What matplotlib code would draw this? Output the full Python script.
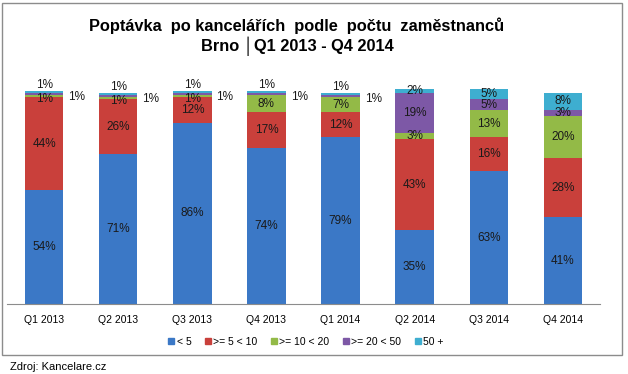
import matplotlib
matplotlib.use("Agg")
import matplotlib.pyplot as plt
from matplotlib.patches import Rectangle
from matplotlib.lines import Line2D
import numpy as np

plt.rcParams['font.family'] = ['Liberation Sans', 'DejaVu Sans']

quarters = ["Q1 2013", "Q2 2013", "Q3 2013", "Q4 2013", "Q1 2014", "Q2 2014", "Q3 2014", "Q4 2014"]
series_names = ["< 5", ">= 5 < 10", ">= 10 < 20", ">= 20 < 50", "50 +"]
lt5 = [54, 71, 86, 74, 79, 35, 63, 41]
s5_10 = [44, 26, 12, 17, 12, 43, 16, 28]
s10_20 = [1, 1, 1, 8, 7, 3, 13, 20]
s20_50 = [1, 1, 1, 1, 1, 19, 5, 3]
s50p = [1, 1, 1, 1, 1, 2, 5, 8]
series = [lt5, s5_10, s10_20, s20_50, s50p]
colors = ["#3B78C6", "#C9403B", "#93BA47", "#7D58A6", "#3EAED0"]

W, H = 628, 374
fig = plt.figure(figsize=(W / 100, H / 100), dpi=100)

# frame of the chart
fig.add_artist(Rectangle((2 / W, 1 - 355 / H), 620 / W, 352 / H, transform=fig.transFigure,
                         fill=False, edgecolor="#8C8C8C", linewidth=1.0))

ax_left, ax_right = 7 / W, 600 / W
y_base = 304
ymax = 110
px_per_unit = 2.11
ax_top_px = y_base - ymax * px_per_unit
ax = fig.add_axes([ax_left, 1 - y_base / H, ax_right - ax_left, (y_base - ax_top_px) / H])

x = np.arange(len(quarters))
bw = 0.52
bottom = np.zeros(len(quarters))
for vals, c, name in zip(series, colors, series_names):
    ax.bar(x, vals, bw, bottom=bottom, color=c, label=name, edgecolor="none")
    bottom += np.array(vals)

ax.set_xlim(-0.5, len(quarters) - 0.5)
ax.set_ylim(0, ymax)
for s in ["top", "right", "left"]:
    ax.spines[s].set_visible(False)
ax.spines["bottom"].set_color("#8C8C8C")
ax.set_yticks([])
ax.set_xticks(x)
ax.set_xticklabels(quarters, fontsize=7.5)
ax.tick_params(axis="x", length=0, pad=8)

fs = 8.5
for i in range(len(quarters)):
    b = 0
    for k, vals in enumerate(series):
        v = vals[i]
        mid = b + v / 2
        lab = f"{v}%"
        if k == 3 and v <= 1:
            ax.text(i + 0.44, b - 1, lab, ha="center", va="center", fontsize=fs, color="#1a1a1a")
        elif k == 4 and v <= 1:
            ax.text(i, b + v + 3, lab, ha="center", va="center", fontsize=fs, color="#1a1a1a")
        elif k == 2 and v <= 1:
            ax.text(i, mid - 1.5, lab, ha="center", va="center", fontsize=fs, color="#1a1a1a")
        else:
            ax.text(i, mid, lab, ha="center", va="center", fontsize=fs, color="#1a1a1a")
        b += v

# title
fig.text(297 / W, 1 - 26 / H, "Poptávka  po kancelářích  podle  počtu  zaměstnanců",
         ha="center", va="center", fontsize=11.8, fontweight="bold")
fig.text(297 / W, 1 - 46 / H, "Brno │Q1 2013 - Q4 2014",
         ha="center", va="center", fontsize=11.8, fontweight="bold")

# legend
handles = [Line2D([0], [0], marker="s", linestyle="none", markersize=4,
                  markerfacecolor=c, markeredgecolor=c) for c in colors]
fig.legend(handles, series_names, loc="center", bbox_to_anchor=(305 / W, 1 - 342 / H),
           ncol=5, frameon=False, fontsize=7.5, handletextpad=0.0, columnspacing=1.1,
           handlelength=1.0)

fig.text(10 / W, 1 - 367 / H, "Zdroj: Kancelare.cz", ha="left", va="center", fontsize=8)

fig.savefig("out.png", dpi=100)
